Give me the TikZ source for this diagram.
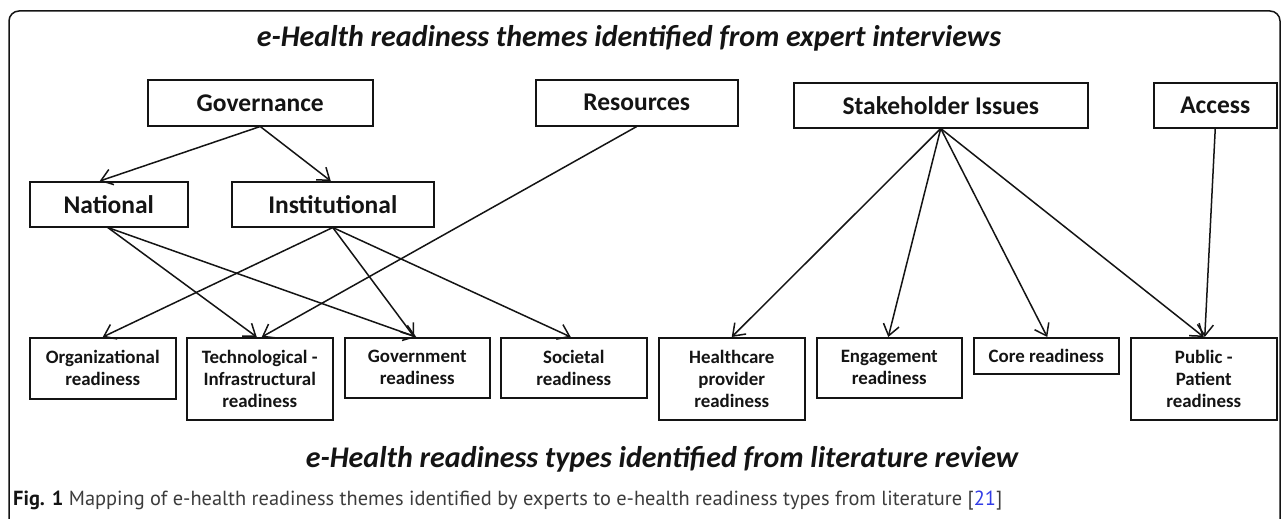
\documentclass[tikz,border=0pt]{standalone}
\usepackage{fontspec}
\setmainfont{Carlito}
\newfontfamily\capfont{PT Sans}
\usetikzlibrary{arrows.meta}
\definecolor{inkdark}{RGB}{20,20,20}
\definecolor{capgray}{RGB}{60,60,60}
\definecolor{refblue}{RGB}{50,60,230}
\begin{document}
\begin{tikzpicture}[x=1pt,y=-1pt,
  theme/.style={draw=inkdark, line width=1.5pt, text=inkdark,
    font=\bfseries\fontsize{25.5}{28}\selectfont,
    anchor=north west, inner sep=0pt},
  rtype/.style={draw=inkdark, line width=1.5pt, text=inkdark,
    font=\bfseries\fontsize{18.9}{21.9}\selectfont, align=center,
    anchor=north west, inner sep=0pt, minimum width=146pt},
  heading/.style={anchor=base, text=inkdark,
    font=\bfseries\itshape\fontsize{30}{32}\selectfont},
  link/.style={draw=inkdark, line width=1.5pt,
    -{Straight Barb[length=11pt,width=16pt,line width=1.5pt]}}
]
\useasboundingbox (0,0) rectangle (1287,519);
\clip (0,0) rectangle (1287,519);
\fill[white] (0,0) rectangle (1287,519);

% frame around the figure
\draw[inkdark, line width=1.5pt, rounded corners=10pt] (9,11) rectangle (1280,545);

% headings
\node[heading] (top) at (629,47) {e-Health readiness themes identified from expert interviews};
\node[heading] (bot) at (662,467) {e-Health readiness types identified from literature review};

% themes
\node[theme, minimum width=225pt, minimum height=46pt] (gov) at (147,79) {Governance};
\node[theme, minimum width=202pt, minimum height=46pt] (res) at (535,79) {Resources};
\node[theme, minimum width=294pt, minimum height=45pt] (stk) at (793,82) {Stakeholder Issues};
\node[theme, minimum width=123pt, minimum height=45pt] (acc) at (1153,82) {Access};
\node[theme, minimum width=158pt, minimum height=45pt] (nat) at (29,181) {National};
\node[theme, minimum width=202pt, minimum height=45pt] (ins) at (231,181) {Institutional};

% readiness types
\node[rtype, minimum height=61pt] (org) at (29,337) {Organizational\\readiness};
\node[rtype, minimum height=82pt] (tec) at (186,337) {Technological -\\Infrastructural\\readiness};
\node[rtype, minimum height=60pt, minimum width=145pt] (gvr) at (344,337) {Government\\readiness};
\node[rtype, minimum height=60pt] (soc) at (500,337) {Societal\\readiness};
\node[rtype, minimum height=82pt] (hcp) at (658,337) {Healthcare\\provider\\readiness};
\node[rtype, minimum height=60pt, minimum width=145pt] (eng) at (816,337) {Engagement\\readiness};
\node[rtype, minimum height=36pt, minimum width=145pt] (cor) at (973,337) {Core readiness};
\node[rtype, minimum height=82pt] (pub) at (1130,337) {Public -\\Patient\\readiness};

% mappings
\draw[link] (gov.south) -- ([xshift=-9pt]nat.north);
\draw[link] (gov.south) -- ([xshift=-2pt]ins.north);
\draw[link] ([xshift=-1pt]nat.south) -- ([xshift=-3pt]tec.north);
\draw[link] ([xshift=-1pt]nat.south) -- ([xshift=-1pt]gvr.north);
\draw[link] (ins.south) -- (org.north);
\draw[link] (ins.south) -- ([xshift=-3pt]gvr.north);
\draw[link] (ins.south) -- ([xshift=-3pt]soc.north);
\draw[link] (res.south) -- ([xshift=2pt]tec.north);
\draw[link] (stk.south) -- (hcp.north);
\draw[link] (stk.south) -- ([xshift=-1pt]eng.north);
\draw[link] (stk.south) -- ([xshift=1pt]cor.north);
\draw[link] (stk.south) -- ([xshift=0pt]pub.north);
\draw[link] (acc.south) -- ([xshift=1pt]pub.north);

% caption
\node[anchor=base west, text=capgray, font=\capfont\fontsize{20.4}{22}\selectfont, inner sep=0pt] (cap) at (13,505)
  {{\bfseries\color{inkdark}Fig. 1} Mapping of e-health readiness themes identified by experts to e-health readiness types from literature [{\color{refblue}21}]};
\end{tikzpicture}
\end{document}
